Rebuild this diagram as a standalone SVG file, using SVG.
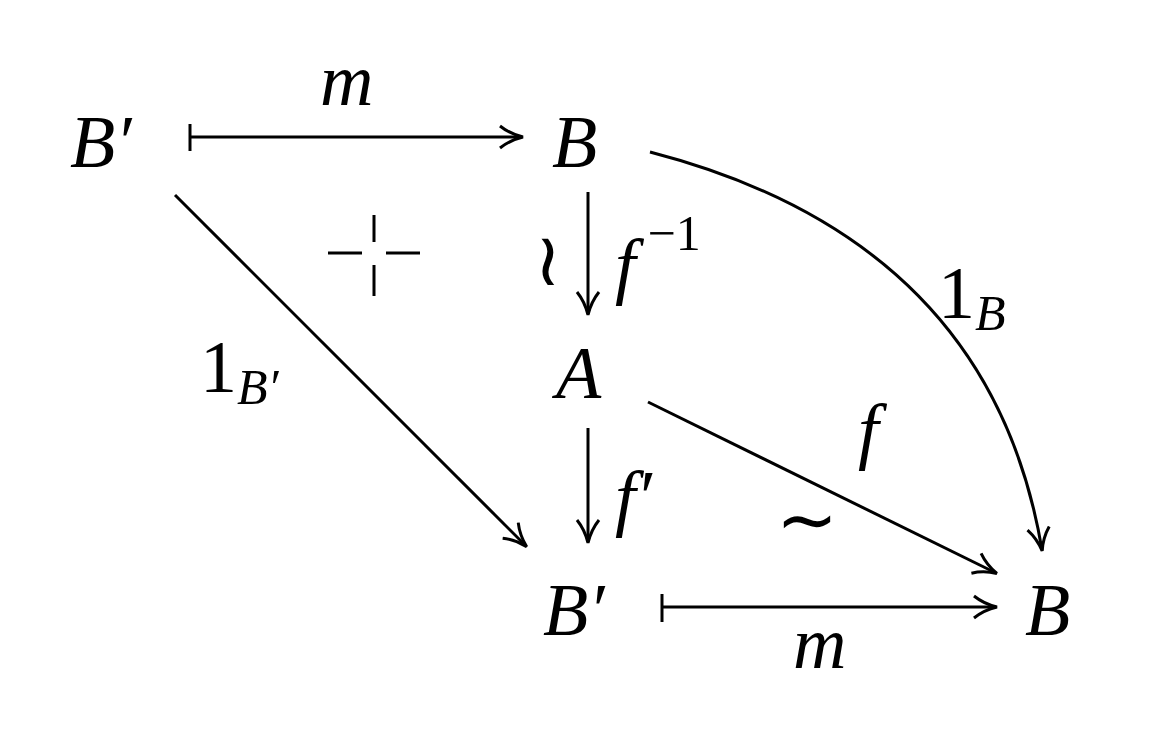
<svg xmlns="http://www.w3.org/2000/svg" width="1162" height="741" viewBox="0 0 1162 741">
<style>
.t{font-family:"Liberation Serif",serif;font-style:italic;font-size:74px;fill:#000}
.r{font-family:"Liberation Serif",serif;font-style:normal;font-size:74px;fill:#000}
.s{font-size:50px}
.c{fill:none;stroke:#000;stroke-width:3}
</style>
<defs><marker id="a" markerWidth="26" markerHeight="26" refX="23" refY="13" orient="auto" markerUnits="userSpaceOnUse"><path d="M1,2 Q11,10 24,13 Q11,16 1,24" fill="none" stroke="#000" stroke-width="3"/></marker></defs>
<rect width="1162" height="741" fill="#fff"/>
<g id="n1"><text class="t" x="70" y="167">B′</text></g>
<g id="n2"><text class="t" x="552" y="167">B</text></g>
<g id="n3"><text class="t" x="556" y="398">A</text></g>
<g id="n4"><text class="t" x="543" y="635">B′</text></g>
<g id="n5"><text class="t" x="1025" y="635">B</text></g>
<g id="connectors">
<line class="c" x1="190" y1="124" x2="190" y2="151"/>
<line class="c" x1="190" y1="137" x2="522" y2="137" marker-end="url(#a)"/>
<line class="c" x1="175" y1="195" x2="526" y2="546" marker-end="url(#a)"/>
<line class="c" x1="588" y1="192" x2="588" y2="314" marker-end="url(#a)"/>
<line class="c" x1="588" y1="428" x2="588" y2="542" marker-end="url(#a)"/>
<line class="c" x1="648" y1="402" x2="996" y2="573" marker-end="url(#a)"/>
<path class="c" d="M650,152 Q990,240 1042,550" marker-end="url(#a)"/>
<line class="c" x1="662" y1="594" x2="662" y2="622"/>
<line class="c" x1="662" y1="607" x2="996" y2="607" marker-end="url(#a)"/>
<path class="c" d="M328,253 H362 M386,253 H420 M374,215 V242 M374,265 V296" stroke-width="2.5"/>
</g>
<g id="labels">
<text class="t" x="320" y="105">m</text>
<text class="t" x="615" y="290">f<tspan class="s r" dx="12" dy="-40">−1</tspan></text>
<text class="r" x="534" y="285" font-size="64">≀</text>
<text class="r" x="938" y="318">1<tspan class="t s" dy="12">B</tspan></text>
<text class="r" x="200" y="392">1<tspan class="t s" dy="12">B′</tspan></text>
<text class="t" x="858" y="455">f</text>
<text class="t" x="615" y="522">f′</text>
<text class="r" x="776" y="545">∼</text>
<text class="t" x="793" y="668">m</text>
</g>
</svg>
